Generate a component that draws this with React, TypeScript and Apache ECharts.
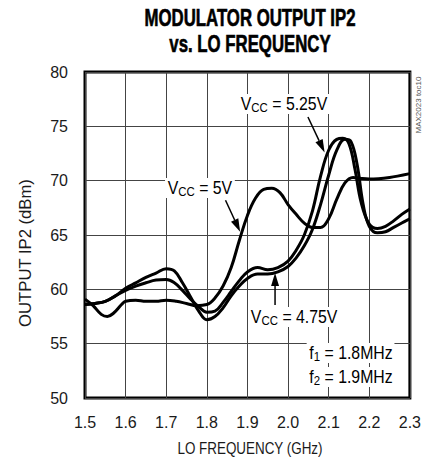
import React, { useEffect, useRef } from "react";
import * as echarts from "echarts";

const FONT = "'Liberation Sans', Arial, Helvetica, sans-serif";

const xTicks = ["1.5", "1.6", "1.7", "1.8", "1.9", "2.0", "2.1", "2.2", "2.3"];
const yTicks = [50, 55, 60, 65, 70, 75, 80];

const f475 = [1.5, 1.525, 1.55, 1.575, 1.6, 1.625, 1.65, 1.675, 1.7, 1.72, 1.74, 1.76, 1.78, 1.8, 1.82, 1.84, 1.86, 1.88, 1.9, 1.925, 1.95, 1.975, 2.0, 2.02, 2.04, 2.06, 2.08, 2.1, 2.12, 2.14, 2.155, 2.17, 2.185, 2.2, 2.22, 2.24, 2.26, 2.28, 2.3];
const v475 = [58.6, 58.7, 58.9, 59.4, 60.1, 60.6, 61.1, 61.5, 61.9, 61.7, 60.6, 59.3, 58.0, 57.2, 57.5, 58.3, 59.4, 60.3, 61.0, 61.4, 61.4, 61.6, 62.1, 62.9, 64.0, 65.5, 67.8, 70.5, 72.8, 73.8, 73.6, 71.5, 67.8, 65.8, 65.2, 65.3, 65.7, 66.1, 66.5];

const f525 = [1.5, 1.525, 1.55, 1.575, 1.6, 1.625, 1.65, 1.675, 1.7, 1.72, 1.74, 1.76, 1.78, 1.8, 1.82, 1.84, 1.86, 1.88, 1.9, 1.925, 1.95, 1.975, 2.0, 2.02, 2.04, 2.06, 2.08, 2.1, 2.12, 2.135, 2.15, 2.165, 2.18, 2.2, 2.22, 2.24, 2.26, 2.28, 2.3];
const v525 = [58.6, 58.7, 58.9, 59.4, 59.9, 60.3, 60.6, 60.85, 60.9, 60.6, 59.9, 59.1, 58.4, 57.9, 58.0, 58.8, 59.8, 60.8, 61.6, 62.0, 61.8, 62.0, 62.6, 63.6, 65.0, 67.2, 70.4, 72.8, 73.8, 73.9, 73.4, 71.0, 68.0, 66.0, 65.6, 65.8, 66.3, 66.9, 67.4];

const f500 = [1.5, 1.52, 1.54, 1.555, 1.57, 1.59, 1.6, 1.625, 1.65, 1.675, 1.7, 1.725, 1.75, 1.775, 1.8, 1.82, 1.84, 1.86, 1.88, 1.9, 1.92, 1.94, 1.96, 1.98, 2.0, 2.02, 2.04, 2.06, 2.08, 2.1, 2.12, 2.14, 2.16, 2.18, 2.2, 2.25, 2.3];
const v500 = [59.1, 58.5, 57.7, 57.5, 57.8, 58.6, 58.9, 59.0, 58.9, 58.9, 59.0, 58.9, 58.7, 58.5, 58.6, 59.2, 60.3, 62.0, 64.5, 66.8, 68.4, 69.2, 69.3, 68.9, 67.8, 66.9, 66.1, 65.7, 65.7, 66.5, 68.3, 69.8, 70.3, 70.2, 70.15, 70.3, 70.65];

// annotations in data coordinates
const labels = [
  { text: "{v|V}{s|CC}{v| = 5.25V}", at: [1.99, 77.06] },
  { text: "{v|V}{s|CC}{v| = 5V}", at: [1.783, 69.33] },
  { text: "{v|V}{s|CC}{v| = 4.75V}", at: [2.015, 57.46] },
];
const arrows = [
  { from: [2.049, 75.86], to: [2.09, 72.6] },
  { from: [1.846, 68.2], to: [1.882, 65.3] },
  { from: [1.968, 58.56], to: [1.968, 61.5] },
];
const freqNotes = [
  { text: "{v|f}{s|1}{v| = 1.8MHz}", at: [2.262, 54.15] },
  { text: "{v|f}{s|2}{v| = 1.9MHz}", at: [2.262, 51.94] },
];

const pairs = (f: number[], v: number[]) => f.map((x, i) => [x, v[i]]);

const rich = {
  v: { fontSize: 18, fontFamily: FONT, color: "#111", lineHeight: 20 },
  s: { fontSize: 13, fontFamily: FONT, color: "#111", lineHeight: 11, verticalAlign: "bottom" },
};

export default function App() {
  const ref = useRef<HTMLDivElement>(null);
  useEffect(() => {
    const el = ref.current!;
    const chart = echarts.init(el, null, { renderer: "svg" });
    const lineStyle = { color: "#000", width: 3 };
    chart.setOption({
      animation: false,
      backgroundColor: "#fff",
      grid: { left: 85, right: 11, top: 72, bottom: 60, show: true, borderColor: "#000", borderWidth: 3, backgroundColor: "transparent" },
      xAxis: {
        type: "value", min: 1.5, max: 2.3, interval: 0.1,
        axisLine: { show: false }, axisTick: { show: false },
        axisLabel: { margin: 16, fontSize: 16, fontFamily: FONT, color: "#1a1a1a", formatter: (val: number) => { const s = val.toFixed(1); return xTicks.includes(s) ? s : ""; } },
        splitLine: { show: true, lineStyle: { color: "#444", width: 1 } },
      },
      yAxis: {
        type: "value", min: 50, max: 80, interval: 5,
        axisLine: { show: false }, axisTick: { show: false },
        axisLabel: { margin: 17, fontSize: 16, fontFamily: FONT, color: "#1a1a1a", formatter: (val: number) => (yTicks.includes(Math.round(val)) ? String(Math.round(val)) : "") },
        splitLine: { show: true, lineStyle: { color: "#444", width: 1 } },
      },
      series: [
        { type: "line", data: pairs(f475, v475), smooth: 0.4, showSymbol: false, lineStyle, z: 3 },
        { type: "line", data: pairs(f525, v525), smooth: 0.4, showSymbol: false, lineStyle, z: 3 },
        { type: "line", data: pairs(f500, v500), smooth: 0.4, showSymbol: false, lineStyle, z: 3 },
      ],
    });
    const px = (p: number[]) => chart.convertToPixel({ gridIndex: 0 }, p) as number[];
    const g: any[] = [];
    g.push({
      type: "text", x: 250, y: 31, scaleX: 0.73, z: 10,
      style: { text: "MODULATOR OUTPUT IP2\nvs. LO FREQUENCY", font: `bold 23px ${FONT}`, fill: "#000", stroke: "#000", lineWidth: 0.6, align: "center", verticalAlign: "middle", lineHeight: 25.5 },
    });
    g.push({
      type: "text", x: 250, y: 448, scaleX: 0.79, z: 10,
      style: { text: "LO FREQUENCY (GHz)", font: `17px ${FONT}`, fill: "#1a1a1a", align: "center", verticalAlign: "middle" },
    });
    g.push({
      type: "text", x: 25, y: 253, rotation: Math.PI / 2, scaleX: 0.98, z: 10,
      style: { text: "OUTPUT IP2 (dBm)", font: `17px ${FONT}`, fill: "#1a1a1a", align: "center", verticalAlign: "middle" },
    });
    g.push({
      type: "text", x: 418, y: 105, rotation: Math.PI / 2, z: 10,
      style: { text: "MAX2023 toc10", font: `8px ${FONT}`, fill: "#555", align: "center", verticalAlign: "middle" },
    });
    labels.forEach((l) => {
      const [x, y] = px(l.at);
      g.push({
        type: "text", x, y, scaleX: 0.88, z: 20,
        style: { text: l.text, rich, align: "center", verticalAlign: "middle", backgroundColor: "#fff", padding: [0, 3, 0, 3] },
      });
    });
    freqNotes.forEach((l) => {
      const [x, y] = px(l.at);
      g.push({
        type: "text", x, y, scaleX: 0.88, z: 20,
        style: { text: l.text, rich, align: "right", verticalAlign: "middle", backgroundColor: "#fff", padding: [0, 2, 0, 3] },
      });
    });
    arrows.forEach((a) => {
      const [x1, y1] = px(a.from);
      const [x2, y2] = px(a.to);
      const dx = x2 - x1, dy = y2 - y1;
      const len = Math.hypot(dx, dy);
      const ux = dx / len, uy = dy / len;
      const hl = 13, hw = 4;
      const bx = x2 - ux * hl, by = y2 - uy * hl;
      g.push({ type: "line", z: 20, shape: { x1, y1, x2: bx, y2: by }, style: { stroke: "#000", lineWidth: 1.5 } });
      g.push({
        type: "polygon", z: 20,
        shape: { points: [[x2, y2], [bx - uy * hw, by + ux * hw], [bx + uy * hw, by - ux * hw]] },
        style: { fill: "#000" },
      });
    });
    chart.setOption({ graphic: g });
    return () => chart.dispose();
  }, []);
  return <div ref={ref} style={{ width: 424, height: 458, position: "absolute", left: 0, top: 0 }} />;
}
